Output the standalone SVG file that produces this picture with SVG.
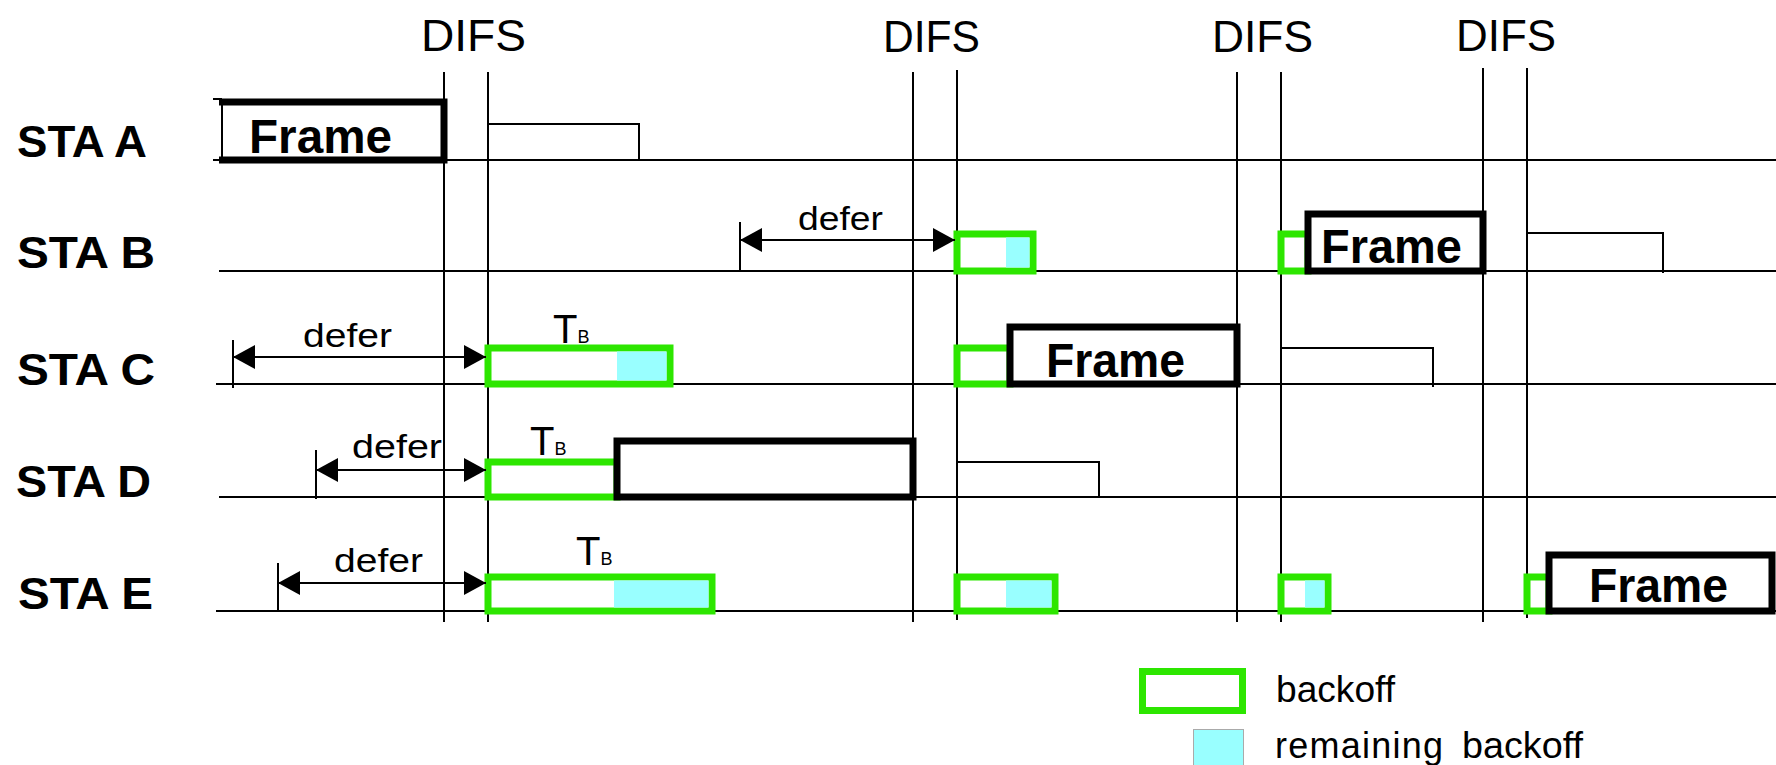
<svg xmlns="http://www.w3.org/2000/svg" width="1776" height="765" viewBox="0 0 1776 765">
<defs>
<style>
.tl{stroke:#000;stroke-width:2;fill:none}
.frame{fill:#fff;stroke:#000;stroke-width:7}
.bo{fill:#fff;stroke:#2de600;stroke-width:7}
.rem{fill:#99ffff}
.t{font-family:"Liberation Sans",Arial,sans-serif;fill:#000}
.lbl{font-size:44px;font-weight:bold}
.ftxt{font-size:48px;font-weight:bold}
.difs{font-size:44px}
.defer{font-size:34px}
.tb{font-size:40px}
.leg{font-size:36px}
</style>
<marker id="ah" markerUnits="userSpaceOnUse" markerWidth="24" markerHeight="26" refX="22" refY="12" orient="auto-start-reverse">
<path d="M0,0 L22,12 L0,24 z" fill="#000"/>
</marker>
</defs>
<rect width="1776" height="765" fill="#fff"/>

<g id="timelines" class="tl">
<line x1="213" y1="160" x2="1776" y2="160"/>
<line x1="219" y1="271" x2="1776" y2="271"/>
<line x1="216" y1="384" x2="1776" y2="384"/>
<line x1="219" y1="497" x2="1776" y2="497"/>
<line x1="216" y1="611" x2="1776" y2="611"/>
</g>

<g id="difs">
<g class="tl">
<line x1="444" y1="72" x2="444" y2="622"/>
<line x1="488" y1="72" x2="488" y2="622"/>
<line x1="913" y1="72" x2="913" y2="622"/>
<line x1="957" y1="70" x2="957" y2="620"/>
<line x1="1237" y1="72" x2="1237" y2="622"/>
<line x1="1281" y1="72" x2="1281" y2="622"/>
<line x1="1483" y1="68" x2="1483" y2="622"/>
<line x1="1527" y1="68" x2="1527" y2="618"/>
</g>
<text class="t difs" x="421" y="51" textLength="105" lengthAdjust="spacingAndGlyphs">DIFS</text>
<text class="t difs" x="883" y="52" textLength="97" lengthAdjust="spacingAndGlyphs">DIFS</text>
<text class="t difs" x="1212" y="52" textLength="101" lengthAdjust="spacingAndGlyphs">DIFS</text>
<text class="t difs" x="1456" y="51" textLength="100" lengthAdjust="spacingAndGlyphs">DIFS</text>
</g>

<g id="sta-a">
<text class="t lbl" x="17" y="157" textLength="130" lengthAdjust="spacingAndGlyphs">STA A</text>
<rect x="219" y="102" width="225" height="58" fill="#fff"/>
<path d="M219,102 H444 V160 H219" fill="none" stroke="#000" stroke-width="7"/>
<line x1="222" y1="100" x2="222" y2="160" stroke="#000" stroke-width="2"/>
<line x1="213" y1="99" x2="222" y2="99" stroke="#000" stroke-width="2"/>
<text class="t ftxt" x="249" y="153" textLength="143" lengthAdjust="spacingAndGlyphs">Frame</text>
<polyline class="tl" points="488,124 639,124 639,160"/>
</g>

<g id="sta-b">
<text class="t lbl" x="17" y="268" textLength="138" lengthAdjust="spacingAndGlyphs">STA B</text>
<rect class="bo" x="957" y="234" width="76" height="37"/>
<rect class="rem" x="1006" y="237.5" width="23.5" height="30"/>
<rect class="bo" x="1281" y="234" width="27" height="37"/>
<rect class="frame" x="1308" y="214" width="175" height="57"/>
<text class="t ftxt" x="1321" y="263" textLength="141" lengthAdjust="spacingAndGlyphs">Frame</text>
<polyline class="tl" points="1527,233 1663,233 1663,273"/>
</g>

<g id="sta-c">
<text class="t lbl" x="17" y="385" textLength="138" lengthAdjust="spacingAndGlyphs">STA C</text>
<text class="t tb" x="553" y="343">T<tspan font-size="18">B</tspan></text>
<rect class="bo" x="488" y="348" width="182" height="36"/>
<rect class="rem" x="617" y="351.5" width="49.5" height="29"/>
<rect class="bo" x="957" y="348" width="53" height="36"/>
<rect class="frame" x="1010" y="327" width="227" height="57"/>
<text class="t ftxt" x="1046" y="377" textLength="139" lengthAdjust="spacingAndGlyphs">Frame</text>
<polyline class="tl" points="1281,348 1433,348 1433,387"/>
</g>

<g id="sta-d">
<text class="t lbl" x="16" y="497" textLength="135" lengthAdjust="spacingAndGlyphs">STA D</text>
<text class="t tb" x="530" y="455">T<tspan font-size="18">B</tspan></text>
<rect class="bo" x="488" y="462" width="129" height="35"/>
<rect class="frame" x="617" y="441" width="296" height="56"/>
<polyline class="tl" points="957,462 1099,462 1099,497"/>
</g>

<g id="sta-e">
<text class="t lbl" x="18" y="609" textLength="135" lengthAdjust="spacingAndGlyphs">STA E</text>
<text class="t tb" x="576" y="565">T<tspan font-size="18">B</tspan></text>
<rect class="bo" x="488" y="577" width="224" height="34"/>
<rect class="rem" x="614" y="580.5" width="94.5" height="27"/>
<rect class="bo" x="957" y="577" width="98" height="34"/>
<rect class="rem" x="1006" y="580.5" width="45.5" height="27"/>
<rect class="bo" x="1281" y="577" width="47" height="34"/>
<rect class="rem" x="1305" y="580.5" width="19.5" height="27"/>
<rect class="bo" x="1527" y="577" width="22" height="34"/>
<rect class="frame" x="1549" y="555" width="223" height="56"/>
<text class="t ftxt" x="1589" y="602" textLength="139" lengthAdjust="spacingAndGlyphs">Frame</text>
</g>

<g id="connectors">
<g class="tl">
<line x1="740" y1="222" x2="740" y2="271"/>
<line x1="233" y1="340" x2="233" y2="388"/>
<line x1="316" y1="450" x2="316" y2="499"/>
<line x1="278" y1="563" x2="278" y2="612"/>
<line x1="740" y1="240" x2="955" y2="240" marker-start="url(#ah)" marker-end="url(#ah)"/>
<line x1="233" y1="357" x2="486" y2="357" marker-start="url(#ah)" marker-end="url(#ah)"/>
<line x1="316" y1="470" x2="486" y2="470" marker-start="url(#ah)" marker-end="url(#ah)"/>
<line x1="278" y1="583" x2="486" y2="583" marker-start="url(#ah)" marker-end="url(#ah)"/>
</g>
<text class="t defer" x="798" y="230" textLength="85" lengthAdjust="spacingAndGlyphs">defer</text>
<text class="t defer" x="303" y="347" textLength="89" lengthAdjust="spacingAndGlyphs">defer</text>
<text class="t defer" x="352" y="458" textLength="90" lengthAdjust="spacingAndGlyphs">defer</text>
<text class="t defer" x="334" y="572" textLength="89" lengthAdjust="spacingAndGlyphs">defer</text>
</g>

<g id="legend">
<rect class="bo" x="1142.5" y="671.5" width="100" height="39"/>
<text class="t leg" x="1276" y="702" textLength="119" lengthAdjust="spacingAndGlyphs">backoff</text>
<rect x="1193.5" y="729.5" width="50" height="40" fill="#99ffff" stroke="#aaa" stroke-width="1"/>
<text class="t leg" y="758"><tspan x="1275" textLength="168" lengthAdjust="spacing">remaining</tspan><tspan x="1462" textLength="121" lengthAdjust="spacingAndGlyphs">backoff</tspan></text>
</g>
</svg>
